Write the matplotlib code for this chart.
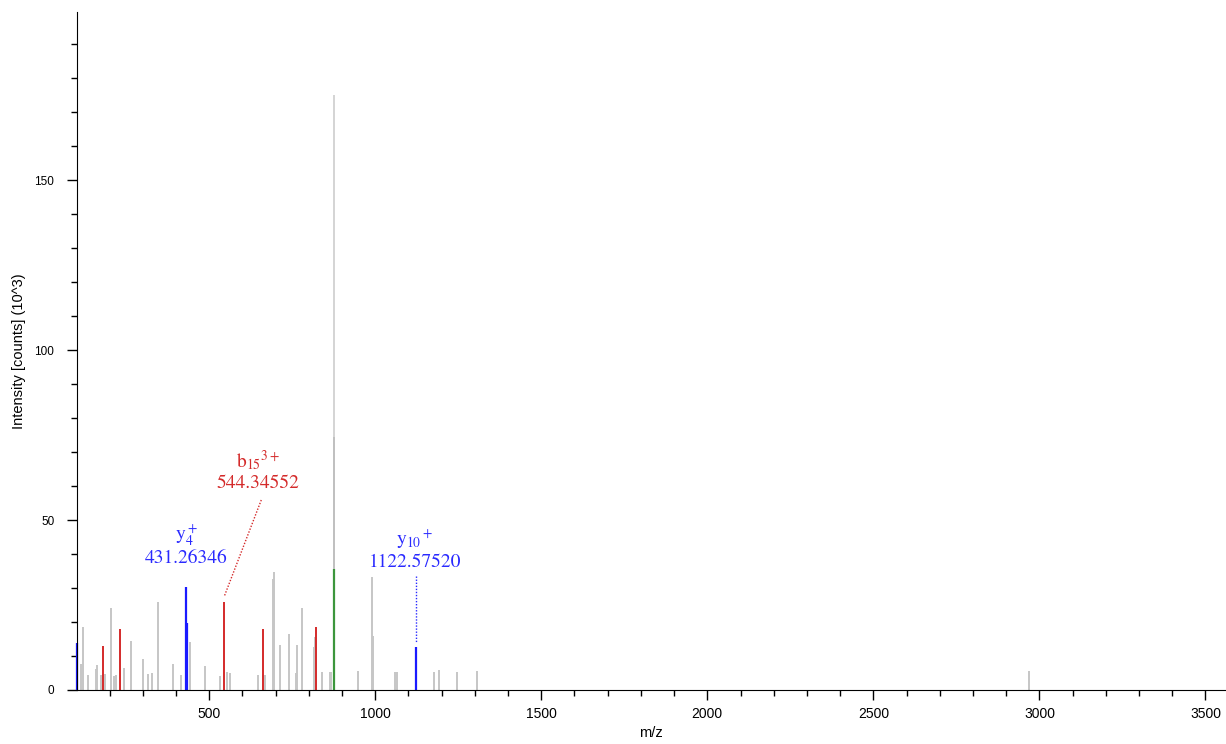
import matplotlib
matplotlib.use("Agg")
from matplotlib import pyplot as plt
from matplotlib.ticker import MultipleLocator

# unassigned peaks (m/z, intensity x10^3)
grey_mz = [114, 121, 136, 159, 163, 173, 186, 203, 215, 219, 243, 264, 300, 316, 329,
           345, 392, 415, 443, 488, 533, 553, 562, 647, 667, 691, 695, 712, 740, 762,
           765, 780, 815, 819, 839, 863, 867, 949, 989, 992, 1061, 1066, 1177, 1193,
           1245, 1306, 2970]
grey_int = [7.6, 18.4, 4.4, 6.2, 7.3, 4.3, 4.6, 24.0, 4.1, 4.5, 6.6, 14.4, 9.2, 4.6, 5.0,
            26.0, 7.5, 4.3, 14.0, 7.2, 4.0, 5.3, 4.9, 4.3, 4.3, 32.8, 34.7, 13.2, 16.4, 4.9,
            13.2, 24.0, 12.7, 15.5, 5.3, 5.3, 5.3, 5.5, 33.1, 16.0, 5.3, 5.3, 5.3, 6.0,
            5.3, 5.7, 5.6]
base_mz = [876, 876]
base_int = [175.0, 74.4]

red_mz = [179, 232, 544, 663, 822]
red_int = [12.8, 17.9, 26.0, 17.9, 18.4]
blue_mz = [103, 431, 434, 1123]
blue_int = [13.9, 30.3, 19.6, 12.5]
green_mz = [876]
green_int = [35.5]

plt.rcParams["mathtext.fontset"] = "stix"
plt.rcParams["font.family"] = ["Liberation Sans", "DejaVu Sans"]
fig = plt.figure(figsize=(12.26, 7.44), dpi=100)
ax = fig.add_axes([0.0625, 0.0726, 0.937, 0.9114])

ax.vlines(base_mz[0], 0, base_int[0], color="#d4d4d4", lw=1.4)
ax.vlines(base_mz[1], 0, base_int[1], color="#c0c0c0", lw=1.4)
ax.vlines(grey_mz, 0, grey_int, color="#c6c6c6", lw=1.4)
ax.vlines(red_mz, 0, red_int, color="#d42a2a", lw=1.4)
ax.vlines(blue_mz, 0, blue_int, color="#1a1aff", lw=1.6, clip_on=False)
ax.vlines(green_mz, 0, green_int, color="#3c963c", lw=1.6)

serif = dict(family="STIXGeneral", fontsize=14, ha="center", va="center")
ax.text(431, 45.6, r"$\mathregular{y_4^+}$", color="#2a2aff", **serif)
ax.text(431, 38.8, "431.26346", color="#2a2aff", **serif)
ax.text(647, 67.6, r"$\mathregular{b_{15}{}^{3+}}$", color="#d42a2a", **serif)
ax.text(647, 60.9, "544.34552", color="#d42a2a", **serif)
ax.plot([657, 545], [55.9, 27.4], color="#d42a2a", lw=1, ls=(0, (1, 1.2)))
ax.text(1119, 44.4, r"$\mathregular{y_{10}{}^+}$", color="#2a2aff", **serif)
ax.text(1119, 37.6, "1122.57520", color="#2a2aff", **serif)
ax.plot([1123, 1123], [33.5, 14.0], color="#2a2aff", lw=1, ls=(0, (1, 1.2)))

ax.set_xlim(101, 3560)
ax.set_ylim(0, 199.5)
ax.xaxis.set_major_locator(MultipleLocator(500))
ax.xaxis.set_minor_locator(MultipleLocator(100))
ax.yaxis.set_major_locator(MultipleLocator(50))
ax.yaxis.set_minor_locator(MultipleLocator(10))
ax.tick_params(which="major", length=7, width=1)
ax.tick_params(which="minor", length=4, width=1)
ax.tick_params(axis="x", labelsize=10, pad=5)
ax.tick_params(axis="y", labelsize=8.5, pad=9)
for s in ["top", "right"]:
    ax.spines[s].set_visible(False)
ax.set_xlabel("m/z", fontsize=10.5, labelpad=4)
ax.set_ylabel("Intensity [counts] (10^3)", fontsize=10.5, labelpad=6)

plt.savefig("out.png")
